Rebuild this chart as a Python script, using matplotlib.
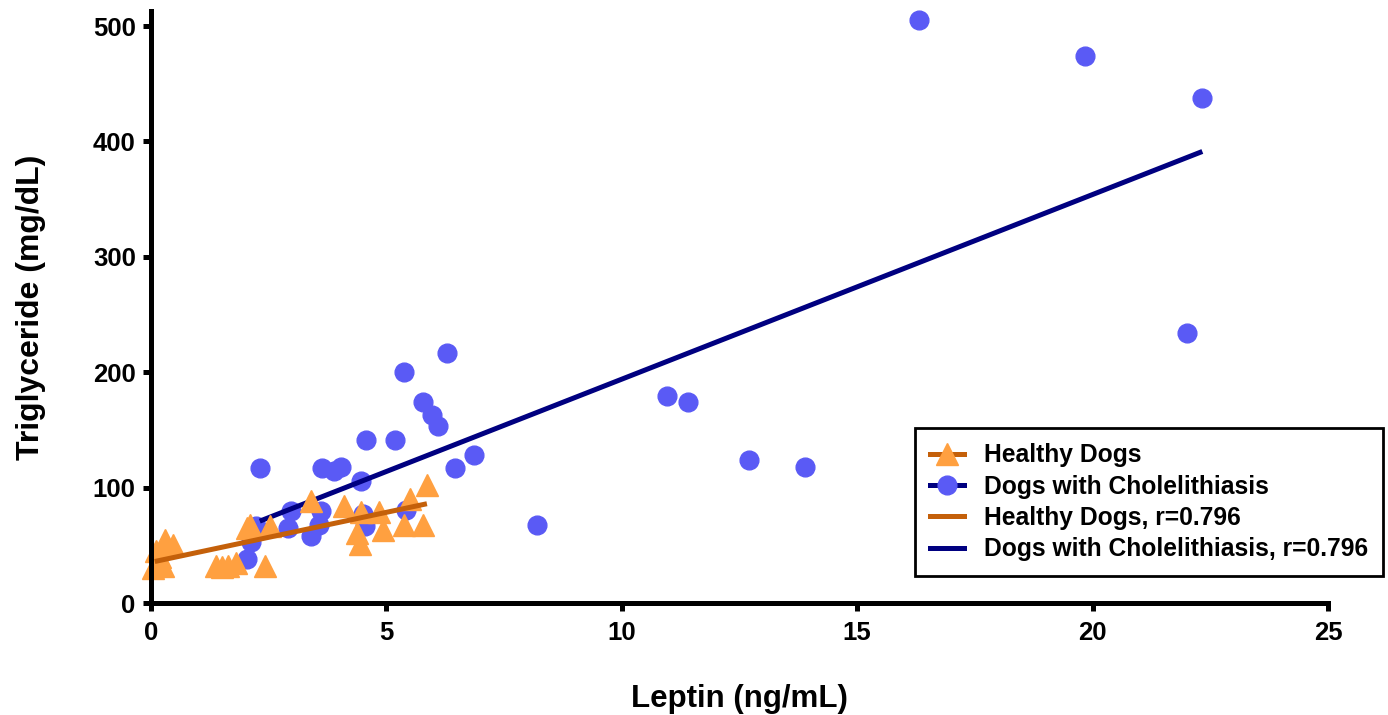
import matplotlib
matplotlib.use("Agg")
import matplotlib.pyplot as plt
from matplotlib.lines import Line2D
import numpy as np

plt.rcParams['font.family'] = ['Liberation Sans', 'DejaVu Sans']
plt.rcParams['font.weight'] = 'bold'

# healthy dogs (leptin ng/mL, triglyceride mg/dL)
healthy_x = [0.05, 0.15, 0.25, 0.2, 0.3, 0.47, 0.1,
             1.39, 1.50, 1.64, 1.81, 2.42, 2.03, 2.10, 2.52,
             3.39, 4.09, 4.46, 4.84, 4.38, 4.44, 4.92, 5.38, 5.77, 5.50, 5.86]
healthy_y = [30, 35, 32, 40, 55, 50, 45,
             32, 31, 32, 35, 32, 65, 68, 67,
             88, 84, 79, 79, 61, 51, 63, 68, 68, 90, 102]

# dogs with cholelithiasis
chole_x = [2.31, 5.37, 6.28, 5.77, 5.96, 6.10, 4.57, 5.19, 6.85, 6.46,
           3.64, 3.88, 4.03, 4.46, 2.97, 3.60, 2.90, 3.57, 3.40, 2.22,
           2.13, 2.03, 4.51, 4.55, 5.42,
           16.31, 19.83, 22.33, 22.01, 10.95, 11.40, 12.71, 13.90, 8.20]
chole_y = [117, 200, 217, 174, 163, 153, 141, 141, 128, 117,
           117, 114, 118, 106, 80, 80, 65, 68, 58, 67,
           53, 38, 77, 67, 81,
           505, 474, 438, 234, 179, 174, 124, 118, 68]

# linear fits: slope, intercept, x range
healthy_fit = (8.66, 35.3, 0.08, 5.86)
chole_fit = (16.0, 34.0, 2.31, 22.33)

orange = '#ffa040'
orange_line = '#c4600a'
blue = '#5a5af5'
navy = '#000080'

fig = plt.figure(figsize=(13.88, 7.15), dpi=100)
ax = fig.add_axes([0.1088, 0.1566, 0.8480, 0.8280])

ax.plot(chole_x, chole_y, linestyle='none', marker='o', markersize=13.5,
        color=blue, zorder=2, clip_on=False)
s, b, x0, x1 = chole_fit
fx = np.array([x0, x1])
ax.plot(fx, s * fx + b, color=navy, lw=3.6, zorder=3, solid_capstyle='butt')
ax.plot(healthy_x, healthy_y, linestyle='none', marker='^', markersize=16,
        color=orange, zorder=4, clip_on=False)
s, b, x0, x1 = healthy_fit
fx = np.array([x0, x1])
ax.plot(fx, s * fx + b, color=orange_line, lw=3.6, zorder=5, solid_capstyle='butt')

ax.set_xlim(0, 25)
ax.set_ylim(0, 513)
ax.set_xticks([0, 5, 10, 15, 20, 25])
ax.set_yticks([0, 100, 200, 300, 400, 500])

for side in ['top', 'right']:
    ax.spines[side].set_visible(False)
for side in ['left', 'bottom']:
    ax.spines[side].set_linewidth(3.6)
    ax.spines[side].set_zorder(6)
ax.tick_params(width=3.6, length=6, labelsize=18.5, pad=5)
ax.tick_params(axis='x', pad=7)

ax.set_xlabel('Leptin (ng/mL)', fontsize=22.5, fontweight='bold', labelpad=28)
ax.set_ylabel('Triglyceride (mg/dL)', fontsize=23, fontweight='bold', labelpad=34)

handles = [
    Line2D([], [], color=orange_line, lw=3.6, marker='^', markersize=16,
           markerfacecolor=orange, markeredgecolor=orange),
    Line2D([], [], color=navy, lw=3.6, marker='o', markersize=13.5,
           markerfacecolor=blue, markeredgecolor=blue),
    Line2D([], [], color=orange_line, lw=3.6),
    Line2D([], [], color=navy, lw=3.6),
]
labels = ['Healthy Dogs', 'Dogs with Cholelithiasis',
          'Healthy Dogs, r=0.796', 'Dogs with Cholelithiasis, r=0.796']
leg = ax.legend(handles, labels, loc='lower right',
                bbox_to_anchor=(0.9964, 0.1944), bbox_transform=fig.transFigure,
                fontsize=17.7, fancybox=False, edgecolor='black', framealpha=1,
                handlelength=1.4, handletextpad=0.8, labelspacing=0.3,
                borderpad=0.6, borderaxespad=0)
leg.get_frame().set_linewidth(2)
for t in leg.get_texts():
    t.set_fontweight('bold')

fig.savefig('out.png', dpi=100)
